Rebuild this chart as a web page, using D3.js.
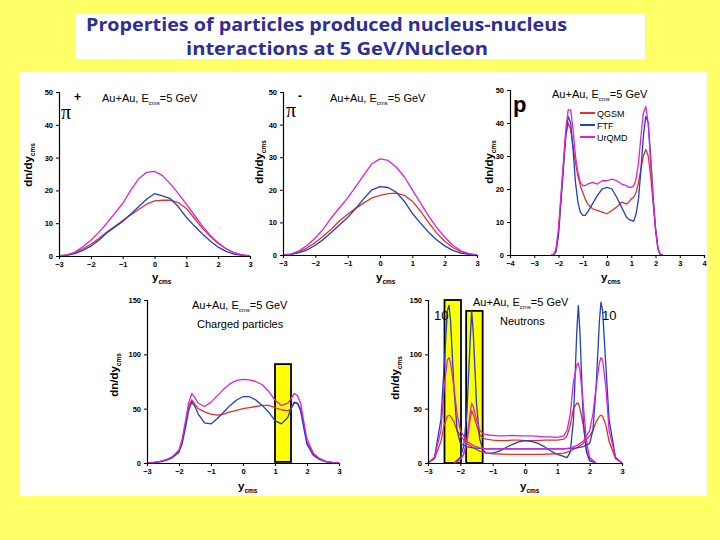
<!DOCTYPE html>
<html><head><meta charset="utf-8">
<script src="https://cdn.jsdelivr.net/npm/d3@7"></script>
<style>
html,body{margin:0;padding:0;background:#FFFF66;}
svg{display:block;}
</style></head>
<body>
<svg id="c" width="720" height="540"></svg>
<script>
// ---------- DATA ----------
const titleLines = ["Properties of particles produced nucleus-nucleus", "interactions at 5 GeV/Nucleon"];
const modelNames = ["QGSM", "FTF", "UrQMD"];

// pi+ panel
const piX = [-3,-2.75,-2.5,-2.25,-2,-1.75,-1.5,-1.25,-1,-0.75,-0.5,-0.25,0,0.25,0.5,0.75,1,1.25,1.5,1.75,2,2.25,2.5,2.75,3];
const piPlusQGSM  = [0,0.3,1,2.2,3.6,5.3,7.3,9,10.8,12.5,14.2,15.8,16.8,17,17,16.3,14.5,11.5,8.5,6,3.8,2.2,1,0.3,0];
const piPlusFTF   = [0,0.2,0.7,1.7,3,4.8,7,8.8,10.5,12.7,15,17.3,19,18.3,17.5,15,11.8,9.2,6.8,4.6,2.7,1.4,0.6,0.2,0];
const piPlusUrQMD = [0,0.3,1.2,2.8,4.8,7.2,10,13,16,20,23.5,25.5,25.8,24.5,22,19,15.8,12.5,9.2,6.3,4,2.2,1,0.3,0];
// pi- panel
const piMinusQGSM  = [0,0.3,1,2.2,3.8,5.8,8,10.5,12.5,14.3,16,17.5,18.3,18.8,19,18.3,16.5,13.5,10,6.8,4.2,2.3,1,0.3,0];
const piMinusFTF   = [0,0.2,0.7,1.6,3,4.8,7,9.3,11.5,14.3,17.3,20,21,20.7,19.3,16.5,12.8,9.8,7,4.7,2.8,1.4,0.6,0.2,0];
const piMinusUrQMD = [0,0.3,1.3,3,5.2,8,11.5,14.5,17.5,21,24.5,28,29.5,29,27,24,20,16,12,8.5,5.5,3,1.3,0.4,0];
// protons
const pX = [-2.3,-2.2,-2.1,-2.0,-1.9,-1.8,-1.7,-1.6,-1.5,-1.4,-1.3,-1.2,-1.1,-1.0,-0.9,-0.8,-0.6,-0.4,-0.2,0,0.2,0.4,0.6,0.8,0.9,1.0,1.1,1.2,1.3,1.4,1.5,1.6,1.7,1.8,1.9,2.0,2.1,2.2,2.3];
const pQGSM  = [0,0,1.5,7,17,27,36,40,38,33,28,24,21,19,17,15.5,14,13.5,13,12.5,13.5,14.5,16,15.5,16,17,17.5,19,22,26,30,32,30,24,16,8,2,0,0];
const pFTF   = [0,0,1,6,16,26,36,42,40,32,22,16,13,12,12,13,15.5,18,20,20.5,20,17.5,14.5,11.5,10.8,10.5,10.2,12.5,17,26,36,42,40,30,18,8,2,0,0];
const pUrQMD = [0,0,2,8,18,28,38,44,44,38,30,25,22,21,21,21.5,22,21.5,22.5,22.5,23,22.5,21.5,21,20.5,20.5,21,23,28,36,43,45,40,28,17,8,2,0,0];
// charged particles
const chX = [-3,-2.8,-2.6,-2.4,-2.2,-2.0,-1.9,-1.8,-1.7,-1.6,-1.5,-1.4,-1.2,-1.0,-0.8,-0.6,-0.4,-0.2,0,0.2,0.4,0.6,0.8,1.0,1.2,1.4,1.5,1.6,1.7,1.8,1.9,2.0,2.2,2.4,2.6,2.8,3];
const chQGSM  = [0,0.4,1.2,2.8,5.5,11,20,36,52,58,54,50,47,45,44,45,47,48.5,50,51,52,53,53,51,49,48,50,55,55,50,35,19,8,3.5,1.2,0.4,0];
const chFTF   = [0,0.3,1,2.5,5,10,18,32,48,56,52,45,37,36,41,47,53,58,61,61,58,53,47,39,36,42,50,56,55,48,32,17,7,3,1,0.3,0];
const chUrQMD = [0,0.5,1.5,3,6,12,22,38,55,64,60,55,52,56,62,68,73,76,77,76.5,75,72,66,58,53,55,59,64,62,55,38,22,9,4,1.5,0.5,0];
const chBox = [1.0, 1.5, 1, 91];
// neutrons: participant-like set (peaks near +-1.65)
const nAX = [-2.2,-2.0,-1.9,-1.8,-1.7,-1.65,-1.6,-1.5,-1.4,-1.3,-1.2,-1.0,-0.8,-0.6,-0.4,-0.2,0,0.2,0.4,0.6,0.8,1.0,1.2,1.3,1.4,1.5,1.6,1.65,1.7,1.8,1.9,2.0,2.2];
const nAQGSM  = [0,3,8,18,40,48,45,35,26,23,22,21,20.5,20.5,21,21,20.5,20.5,20.5,21,21,21,22,25,35,50,55,55,50,35,12,3,0];
const nAFTF   = [0,5,15,45,110,140,120,55,22,12,9,9,11,14,17,19.5,20.5,20,18,15,11,8,6,5,10,40,120,145,120,40,10,2,0];
const nAUrQMD = [0,3,8,20,45,55,52,40,30,27,26,25.5,25,25,25.5,25,25,25,24.5,24,24,23.5,25,30,45,75,90,92,85,55,20,5,0];
// neutrons: spectator-like set x10 (peaks near +-2.35)
const nBX = [-3,-2.8,-2.6,-2.5,-2.4,-2.35,-2.3,-2.2,-2.1,-2.0,-1.8,-1.6,-1.4,-1.2,-1.0,-0.5,0,0.5,1.0,1.2,1.4,1.6,1.8,2.0,2.1,2.2,2.3,2.35,2.4,2.5,2.6,2.8,3];
const nBQGSM  = [0,4,20,35,43,44,43,38,30,25,18,14,11,9,8.5,8,8,8,8.5,9,11,14,18,25,30,38,43,44,43,35,20,4,0];
const nBFTF   = [0,5,40,90,140,145,130,70,30,18,15,14,13.5,13,13,13,13,13,13,13,13.5,14,15,18,30,70,130,148,140,90,40,5,0];
const nBUrQMD = [0,5,30,70,95,97,92,70,45,30,20,16,14,13,13,13,13,13,13,13,14,16,20,30,45,70,92,97,95,70,30,5,0];
const nBoxes = [[-2.49,-1.98,0,150],[-1.82,-1.31,0,140]];

const ticks6 = [-3,-2,-1,0,1,2,3];
const ticks8 = [-4,-3,-2,-1,0,1,2,3,4];
const yTicks50 = [0,10,20,30,40,50];
const yTicks150 = [0,50,100,150];

// ---------- DRAW ----------
const colors = {QGSM:"#E8302A", FTF:"#1F3FC8", UrQMD:"#E020D8"};
const svg = d3.select("#c");
svg.append("rect").attr("x",0).attr("y",0).attr("width",720).attr("height",540).attr("fill","#FFFF66");
svg.append("rect").attr("x",19).attr("y",72).attr("width",688).attr("height",424).attr("fill","#FFFFFF");
svg.append("rect").attr("x",75).attr("y",14).attr("width",570).attr("height",45).attr("fill","#FFFFFF");
const tt = svg.append("g").attr("font-family","'Open Sans', Lato, sans-serif").attr("font-weight",700)
  .attr("font-size",17.5).attr("fill","#2E2E96");
tt.append("text").attr("x",86).attr("y",31).attr("textLength",481).attr("lengthAdjust","spacingAndGlyphs").text(titleLines[0]);
tt.append("text").attr("x",186).attr("y",55).attr("textLength",302).attr("lengthAdjust","spacingAndGlyphs").text(titleLines[1]);

const FONT = "'Liberation Sans', Arial, sans-serif";

function panel(cfg){
  const x = d3.scaleLinear().domain(cfg.xd).range(cfg.xr);
  const y = d3.scaleLinear().domain(cfg.yd).range(cfg.yr);
  const g = svg.append("g");
  (cfg.boxes||[]).forEach(b=>{
    g.append("rect").attr("x",x(b[0])).attr("y",y(b[3])).attr("width",x(b[1])-x(b[0])).attr("height",y(b[2])-y(b[3]))
     .attr("fill","#FFFF00").attr("stroke","#000").attr("stroke-width",1.8);
  });
  const line = d3.line().x(d=>x(d[0])).y(d=>y(d[1]));
  cfg.series.forEach(s=>{
    g.append("path").datum(s.xs.map((v,i)=>[v,s.ys[i]])).attr("d",line)
     .attr("fill","none").attr("stroke",colors[s.m]).attr("stroke-width",s.w||1.3).attr("stroke-linejoin","round");
  });
  const xa = g.append("g").attr("transform",`translate(0,${cfg.yr[0]})`)
    .call(d3.axisBottom(x).tickValues(cfg.xt).tickSize(3).tickFormat(d3.format("d")));
  const ya = g.append("g").attr("transform",`translate(${cfg.xr[0]},0)`)
    .call(d3.axisLeft(y).tickValues(cfg.yt).tickSize(3).tickFormat(d3.format("d")));
  [xa,ya].forEach(a=>{
    a.select(".domain").attr("stroke","#000").attr("stroke-width",1.2);
    a.selectAll("text").attr("font-family",FONT).attr("font-weight","bold").attr("font-size",7.5).attr("fill","#000");
  });
  xa.selectAll("text").attr("dy","0.6em");
  const yl = g.append("text").attr("font-family",FONT).attr("font-weight","bold").attr("font-size",11.5)
    .attr("text-anchor","middle").attr("transform",`translate(${cfg.ylab[0]},${cfg.ylab[1]}) rotate(-90)`);
  yl.append("tspan").text("dn/dy");
  yl.append("tspan").attr("font-size",6.5).attr("dy",3).text("cms");
  const xl = g.append("text").attr("font-family",FONT).attr("font-weight","bold").attr("font-size",11.5)
    .attr("x",cfg.xlab[0]).attr("y",cfg.xlab[1]);
  xl.append("tspan").text("y");
  xl.append("tspan").attr("font-size",6.5).attr("dy",3).text("cms");
  const cap = g.append("text").attr("font-family",FONT).attr("font-size",11).attr("x",cfg.cap[0]).attr("y",cfg.cap[1]).attr("fill","#000");
  cap.append("tspan").text("Au+Au, E");
  cap.append("tspan").attr("font-size",6).attr("dy",3).text("cms");
  cap.append("tspan").attr("dy",-3).text("=5 GeV");
  if(cfg.sub){
    g.append("text").attr("font-family",FONT).attr("font-size",11).attr("x",cfg.sub[0]).attr("y",cfg.sub[1]).text(cfg.sub[2]);
  }
  return {g,x,y};
}

const s3 = (xs,a,b,c)=>[{m:"QGSM",xs,ys:a},{m:"FTF",xs,ys:b},{m:"UrQMD",xs,ys:c}];

panel({xd:[-3,3],xr:[59,250],yd:[0,50],yr:[256,92],xt:ticks6,yt:yTicks50,
  series:s3(piX,piPlusQGSM,piPlusFTF,piPlusUrQMD), ylab:[32,165], xlab:[152,281], cap:[102,102]});
panel({xd:[-3,3],xr:[283,477],yd:[0,50],yr:[255,92],xt:ticks6,yt:yTicks50,
  series:s3(piX,piMinusQGSM,piMinusFTF,piMinusUrQMD), ylab:[263,162], xlab:[376,281], cap:[330,102]});
panel({xd:[-4,4],xr:[510,704],yd:[0,50],yr:[255,90],xt:ticks8,yt:yTicks50,
  series:s3(pX,pQGSM,pFTF,pUrQMD), ylab:[493,162], xlab:[601,281], cap:[552,98]});
panel({xd:[-3,3],xr:[147,339],yd:[0,150],yr:[463,300],xt:ticks6,yt:yTicks150,
  series:s3(chX,chQGSM,chFTF,chUrQMD), ylab:[118,375], xlab:[238,490], cap:[192,309], sub:[197,328,"Charged particles"],
  boxes:[chBox]});
panel({xd:[-3,3],xr:[428,622],yd:[0,150],yr:[463,300],xt:ticks6,yt:yTicks150,
  series:[...s3(nAX,nAQGSM,nAFTF,nAUrQMD), ...s3(nBX,nBQGSM,nBFTF,nBUrQMD)],
  ylab:[399,378], xlab:[520,490], cap:[473,306], sub:[500,325,"Neutrons"], boxes:nBoxes});

const sym = svg.append("g").attr("fill","#000");
sym.append("text").attr("x",61).attr("y",119).attr("font-family","'Liberation Serif', serif").attr("font-size",20).text("π");
sym.append("text").attr("x",74).attr("y",101).attr("font-family",FONT).attr("font-weight","bold").attr("font-size",12).text("+");
sym.append("text").attr("x",286).attr("y",117).attr("font-family","'Liberation Serif', serif").attr("font-size",20).text("π");
sym.append("text").attr("x",298).attr("y",100).attr("font-family",FONT).attr("font-weight","bold").attr("font-size",12).text("-");
sym.append("text").attr("x",513).attr("y",112).attr("font-family",FONT).attr("font-weight","bold").attr("font-size",22).text("p");
sym.append("text").attr("x",434).attr("y",320).attr("font-family",FONT).attr("font-size",13).text("10");
sym.append("text").attr("x",602).attr("y",320).attr("font-family",FONT).attr("font-size",13).text("10");

const lg = svg.append("g");
modelNames.forEach((m,i)=>{
  const yy = 113 + i*12;
  lg.append("line").attr("x1",580).attr("x2",595).attr("y1",yy).attr("y2",yy).attr("stroke",colors[m]).attr("stroke-width",2);
  lg.append("text").attr("x",597).attr("y",yy+3.5).attr("font-family",FONT).attr("font-size",9).text(m);
});
</script>
</body></html>
